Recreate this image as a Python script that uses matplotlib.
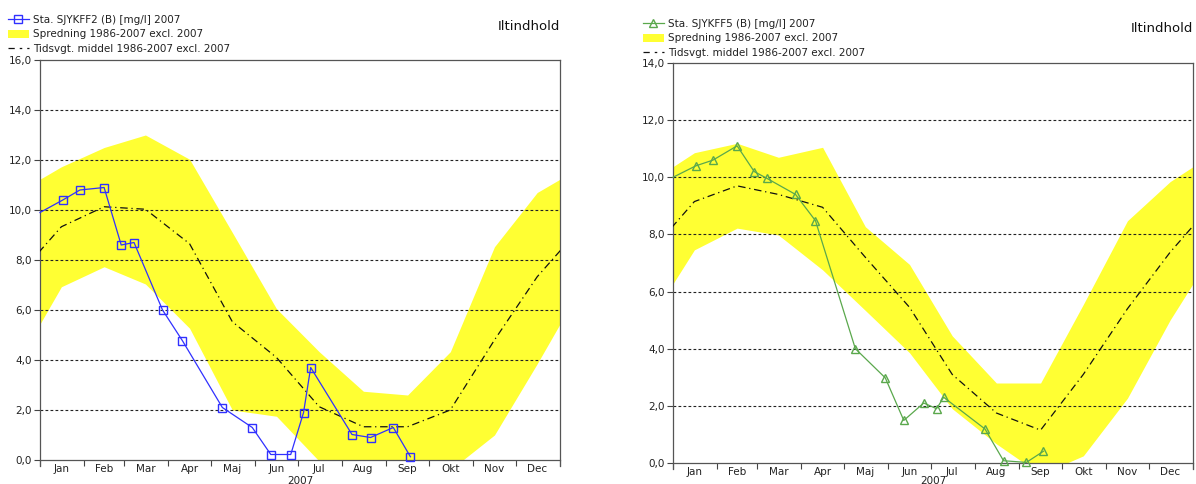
import matplotlib
matplotlib.use("Agg")
import matplotlib.pyplot as plt
from matplotlib.lines import Line2D
from matplotlib.patches import Patch
from matplotlib.ticker import FuncFormatter
import numpy as np

plt.rcParams["font.family"] = ["DejaVu Sans"]

MONTH_START = [0, 31, 59, 90, 120, 151, 181, 212, 243, 273, 304, 334, 365]
MONTH_MID   = [15, 45, 74, 105, 135, 166, 196, 227, 258, 288, 319, 349]
MONTHS      = ["Jan", "Feb", "Mar", "Apr", "Maj", "Jun", "Jul", "Aug", "Sep", "Okt", "Nov", "Dec"]

# sampling days (day of year 2007)
SAMPLE_DOY = [16, 28, 45, 57, 66, 86, 100, 128, 149, 162, 176, 185, 190, 219, 232, 248, 260]

# station SJYKFF2
st2_start = 9.9
st2_vals  = [10.4, 10.8, 10.9, 8.6, 8.7, 6.0, 4.77, 2.1, 1.3, 0.22, 0.22, 1.9, 3.7, 1.02, 0.9, 1.3, 0.13]
st2_upper = [11.73, 12.5, 13.0, 12.03, 9.1, 6.05, 4.33, 2.75, 2.6, 4.33, 8.53, 10.7]
st2_lower = [6.93, 7.73, 7.04, 5.27, 2.0, 1.75, -0.05, -0.8, -1.0, -0.4, 1.0, 3.85]
st2_mean  = [9.33, 10.13, 10.03, 8.65, 5.53, 4.1, 2.13, 1.33, 1.33, 2.0, 4.8, 7.33]

# station SJYKFF5
st5_start = 10.0
st5_vals  = [10.4, 10.6, 11.1, 10.2, 9.96, 9.4, 8.48, 4.0, 2.98, 1.49, 2.1, 1.9, 2.3, 1.19, 0.08, 0.02, 0.41]
st5_upper = [10.86, 11.19, 10.7, 11.05, 8.27, 6.95, 4.45, 2.8, 2.8, 5.55, 8.48, 9.85]
st5_lower = [7.46, 8.22, 7.98, 6.76, 5.34, 3.86, 1.9, 0.67, -0.4, 0.25, 2.27, 5.01]
st5_mean  = [9.15, 9.7, 9.4, 8.95, 7.2, 5.45, 3.1, 1.75, 1.15, 3.1, 5.4, 7.38]

BAND_COL = "#ffff33"
TXT_COL = "#222222"
BLUE = "#3030ff"
GREEN = "#5aa84c"


def wrap(vals):
    # repeat Dec before Jan and Jan after Dec so the band runs off both edges
    x = [MONTH_MID[-1] - 365] + MONTH_MID + [MONTH_MID[0] + 365]
    y = [vals[-1]] + list(vals) + [vals[0]]
    return np.array(x), np.array(y)


def draw_panel(ax, start, vals, upper, lower, mean, ymax, color, marker, xlab_pad):
    xb, yu = wrap(upper)
    _, yl = wrap(lower)
    ax.fill_between(xb, yl, yu, color=BAND_COL, lw=0, zorder=1)
    xm, ym = wrap(mean)
    ax.plot(xm, ym, color="#111111", lw=0.9, dashes=(6, 3, 1, 3), zorder=3)
    xs = [0] + SAMPLE_DOY
    ys = [start] + vals
    ax.plot(xs, ys, color=color, lw=0.9, marker=marker, ms=5.2, mfc="none",
            mec=color, mew=1.0, markevery=list(range(1, len(xs))), zorder=4,
            clip_on=False)
    ax.set_xlim(0, 365)
    ax.set_ylim(0, ymax)
    ax.set_yticks(np.arange(0, ymax + 0.1, 2))
    ax.yaxis.set_major_formatter(FuncFormatter(lambda v, p: f"{v:.1f}".replace(".", ",")))
    for yv in np.arange(2, ymax, 2):
        ax.axhline(yv, color="#222222", lw=0.8, dashes=(2.5, 2), zorder=2)
    ax.set_xticks(MONTH_START)
    ax.set_xticklabels([])
    ax.set_xticks(MONTH_MID, minor=True)
    ax.set_xticklabels(MONTHS, minor=True)
    ax.tick_params(axis="x", which="minor", length=0, pad=3, labelsize=7.5, labelcolor=TXT_COL)
    ax.tick_params(axis="x", which="major", length=4, width=0.8, color="#444444")
    ax.tick_params(axis="y", length=4, width=0.8, color="#444444", labelsize=7.5,
                   labelcolor=TXT_COL, pad=2)
    for s in ax.spines.values():
        s.set_color("#555555")
        s.set_linewidth(0.9)
    ax.spines["left"].set_bounds(-ymax * 0.016, ymax)
    ax.spines["right"].set_bounds(-ymax * 0.016, ymax)
    ax.set_xlabel("2007", fontsize=7.5, color=TXT_COL, labelpad=xlab_pad)


fig = plt.figure(figsize=(11.96, 4.84), dpi=100, facecolor="white")
W, H = 1196, 484
ax1 = fig.add_axes([40 / W, 24 / H, 520 / W, 400 / H])
ax2 = fig.add_axes([673 / W, 21 / H, 520 / W, 400 / H])

draw_panel(ax1, st2_start, st2_vals, st2_upper, st2_lower, st2_mean, 16, BLUE, "s", 1)
draw_panel(ax2, st5_start, st5_vals, st5_upper, st5_lower, st5_mean, 14, GREEN, "^", -1)

fig.text(560 / W, 1 - 26 / H, "Iltindhold", ha="right", va="center", fontsize=9.5, color="#111111")
fig.text(1193 / W, 1 - 29 / H, "Iltindhold", ha="right", va="center", fontsize=9.5, color="#111111")

for lab, color, marker, x0, y0 in [("Sta. SJYKFF2 (B) [mg/l] 2007", BLUE, "s", 8, 15),
                                   ("Sta. SJYKFF5 (B) [mg/l] 2007", GREEN, "^", 643, 19)]:
    handles = [
        Line2D([], [], color=color, lw=0.9, marker=marker, ms=5.2, mfc="none", mec=color),
        Patch(facecolor=BAND_COL, edgecolor="none"),
        Line2D([], [], color="#111111", lw=0.9, dashes=(5, 4, 2, 4)),
    ]
    labels = [lab, "Spredning 1986-2007 excl. 2007", "Tidsvgt. middel 1986-2007 excl. 2007"]
    fig.legend(handles, labels, loc="upper left", bbox_to_anchor=(x0 / W, 1 - y0 / H),
               frameon=False, fontsize=7.5, handlelength=2.0, handleheight=0.8,
               handletextpad=0.4, labelspacing=0.42, borderpad=0, borderaxespad=0,
               labelcolor=TXT_COL)

fig.savefig("out.png", dpi=100, facecolor="white")
